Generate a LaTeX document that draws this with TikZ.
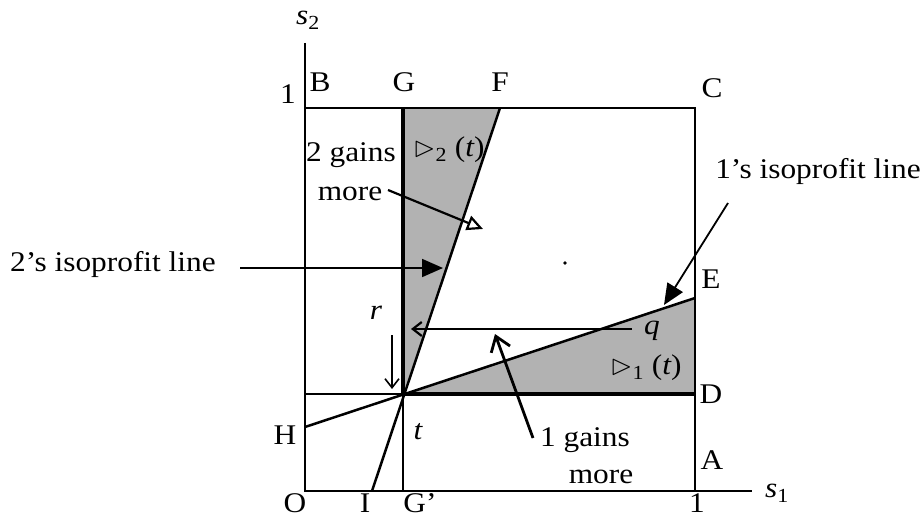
\documentclass[tikz,border=0pt]{standalone}
\usepackage{amssymb}
\usepackage{fontspec}
\setmainfont{Liberation Serif}[FakeStretch=1.1]
\usetikzlibrary{arrows.meta}
\begin{document}
\begin{tikzpicture}[x=1pt,y=-1pt,
  lbl/.style={inner sep=0pt,anchor=center,font=\fontsize{28.5}{33}\selectfont},
  thinln/.style={line width=1.8pt},
  medln/.style={line width=2.5pt},
  thickln/.style={line width=4.8pt},
  shade/.style={fill=black!30},
  bigarr/.style={line width=1.8pt,-{Triangle[length=21pt,width=18pt]}},
  barb/.style={-{Straight Barb[length=9pt,width=14pt]}},
  openarr/.style={line width=2.2pt,-{Triangle[open,length=16pt,width=15pt,fill=white]}}]
\useasboundingbox (0,0) rectangle (922,519);
% key points
\coordinate (O) at (305,491);
\coordinate (Btop) at (305,108);
\coordinate (Ctop) at (695,108);
\coordinate (Abot) at (695,491);
\coordinate (Xend) at (752,491);
\coordinate (Yend) at (305,43);
\coordinate (Gtop) at (403,108);
\coordinate (Gbot) at (403,491);
\coordinate (Ftop) at (500,108);
\coordinate (T) at (403,394);
\coordinate (Hpt) at (305,427);
\coordinate (Ipt) at (372,491);
\coordinate (Ept) at (695,298);
\coordinate (Dpt) at (695,394);
\coordinate (Lpt) at (305,394);
% shaded regions
\fill[shade] (Gtop) -- (Ftop) -- (T) -- cycle;
\fill[shade] (T) -- (Ept) -- (Dpt) -- cycle;
% axes and box
\draw[thinln] (Yend) -- (O) -- (Xend);
\draw[thinln] (Btop) -- (Ctop) -- (Abot);
\draw[thinln] (Lpt) -- (T);
\draw[medln] (T) -- (Gbot);
\draw[thickln] (Gtop) -- (T);
\draw[thickln] (T) -- (Dpt);
\draw[medln] (Hpt) -- (Ept);
\draw[medln] (Ipt) -- (Ftop);
% stray dot
\fill (565,263) circle (1.8pt);
% labels
\node[lbl] (s2) at (308,20) {{\itshape s}\textsubscript{2}};
\node[lbl] (one2) at (288,94) {1};
\node[lbl] (B) at (320,82) {B};
\node[lbl] (G) at (404,82) {G};
\node[lbl] (F) at (500,82) {F};
\node[lbl] (C) at (712,88) {C};
\node[lbl] (E) at (711,279) {E};
\node[lbl] (D) at (711,394) {D};
\node[lbl] (A) at (712,460) {A};
\node[lbl] (H) at (285,435) {H};
\node[lbl] (tl) at (418,432) {\itshape t};
\node[lbl] (Ol) at (295,503) {O};
\node[lbl] (Il) at (365,503) {I};
\node[lbl] (Gp) at (420,503) {G’};
\node[lbl] (one1) at (697,503) {1};
\node[lbl] (s1) at (777,493) {{\itshape s}\textsubscript{1}};
\node[lbl] (g2a) at (351,155) {2 gains};
\node[lbl] (g2b) at (350,194) {more};
\node[lbl] (P2) at (449,150) {$\vartriangleright$\textsubscript{2} ({\itshape t})};
\node[lbl] (P1) at (646,368) {$\vartriangleright$\textsubscript{1} ({\itshape t})};
\node[lbl] (iso2) at (113,264) {2’s isoprofit line};
\node[lbl] (iso1) at (818,172) {1’s isoprofit line};
\node[lbl] (r) at (376,313) {\itshape r};
\node[lbl] (q) at (652,331) {\itshape q};
\node[lbl] (g1a) at (585,440) {1 gains};
\node[lbl] (g1b) at (601,477) {more};
% arrow end points
\coordinate (a2s) at (240,268);
\coordinate (a2e) at (443,268);
\coordinate (a1s) at (728,203);
\coordinate (a1e) at (664,305);
\coordinate (aqs) at (632,329);
\coordinate (aqe) at (411,329);
\coordinate (ars) at (392,335);
\coordinate (are) at (392,389);
\coordinate (g1s) at (533,438);
\coordinate (g1e) at (495,334);
\coordinate (g2s) at (388,190);
\coordinate (g2e) at (483,229);
% arrows
\draw[bigarr] (a2s) -- (a2e);
\draw[bigarr] (a1s) -- (a1e);
\draw[line width=2.2pt,barb] (aqs) -- (aqe);
\draw[line width=1.6pt,barb] (ars) -- (are);
\draw[line width=2.8pt,-{Straight Barb[length=14pt,width=20pt]}] (g1s) -- (g1e);
\draw[openarr] (g2s) -- (g2e);
\end{tikzpicture}
\end{document}
